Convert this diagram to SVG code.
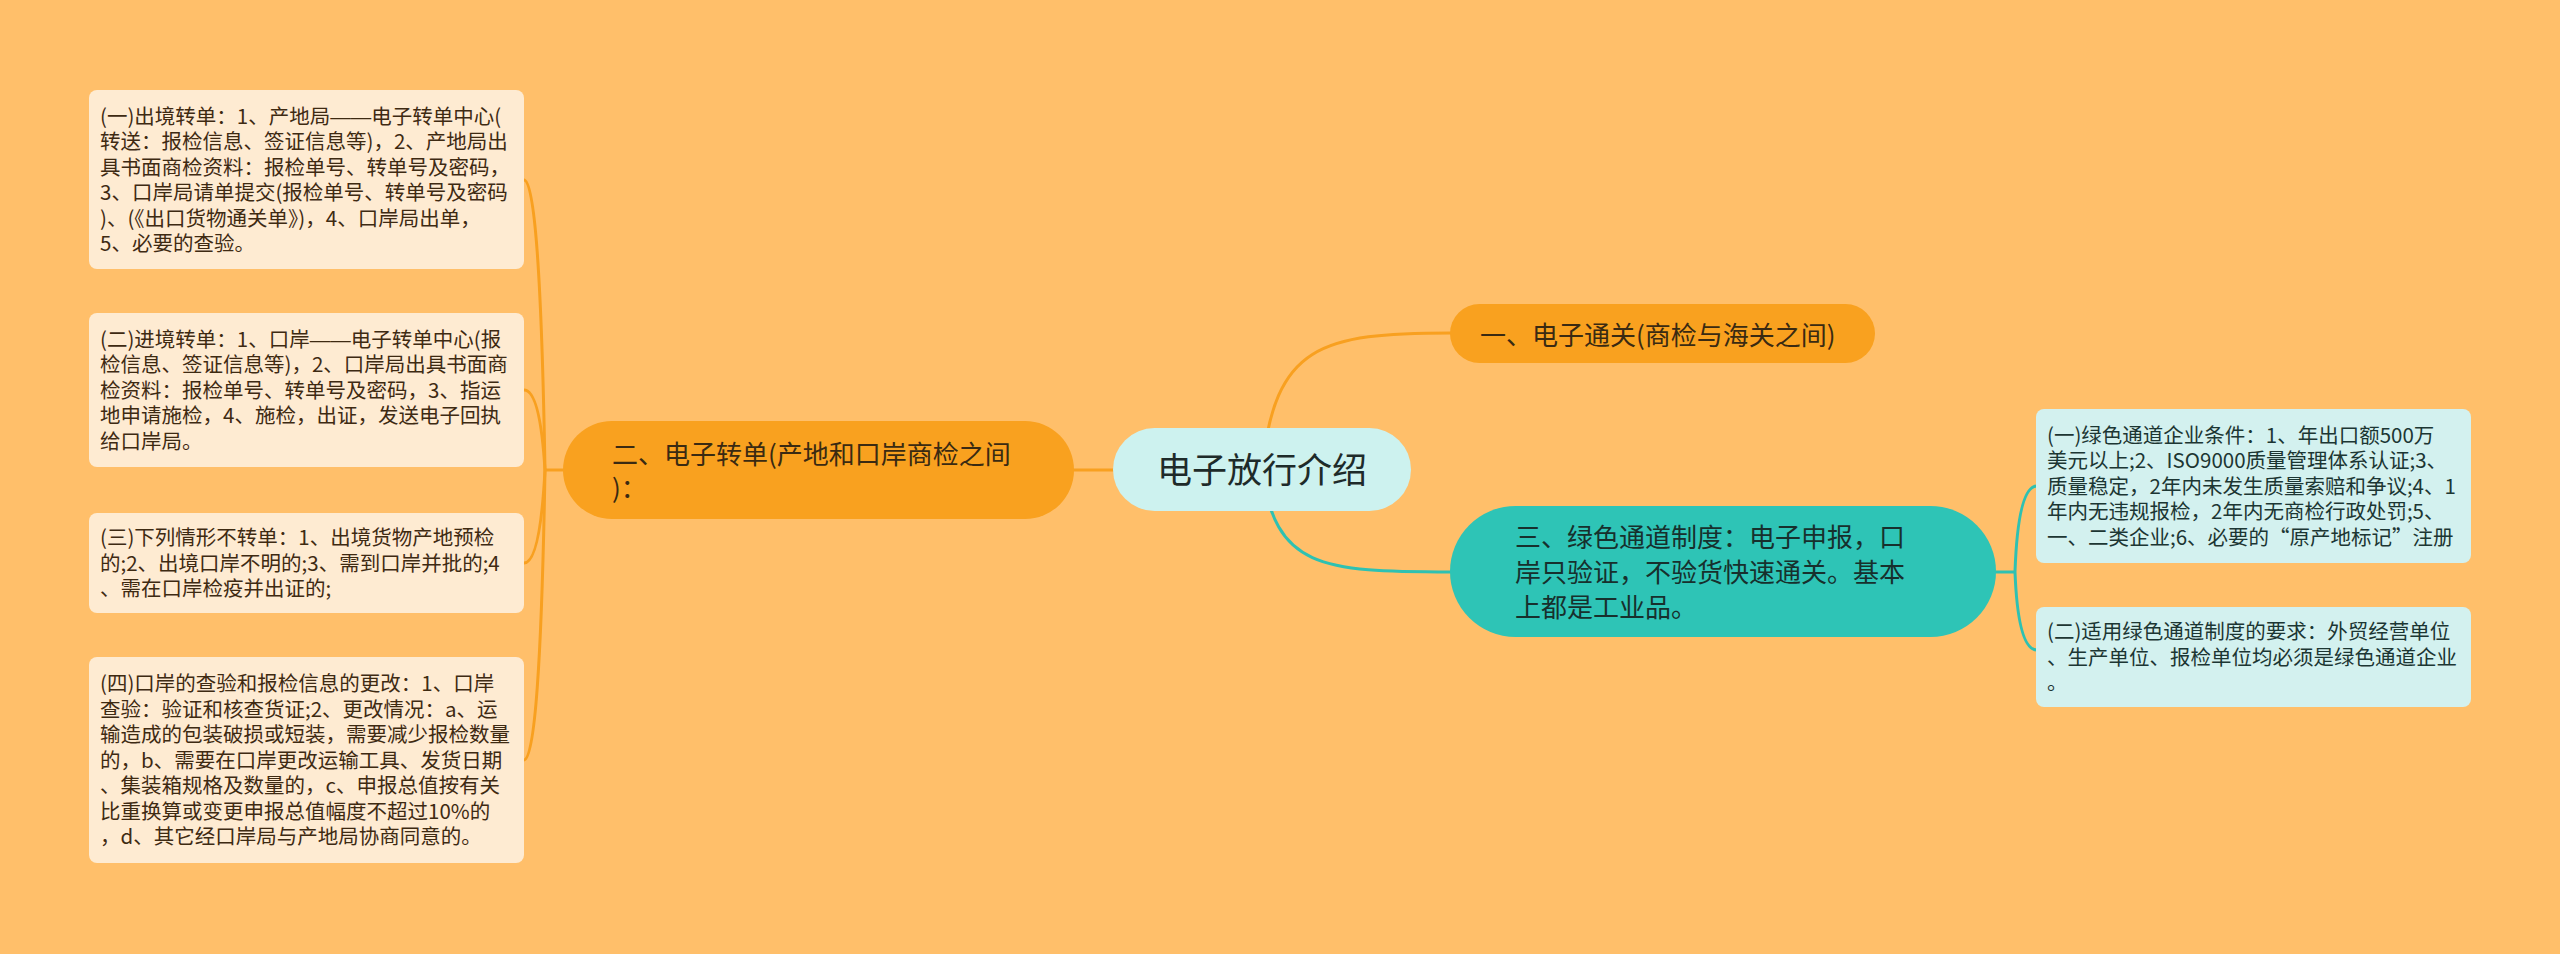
<svg xmlns="http://www.w3.org/2000/svg" width="2560" height="954" viewBox="0 0 2560 954">
<style>
.t{font-family:"Noto Sans CJK SC","Noto Sans",sans-serif}
.leafL{fill:#FEEBD2}
.leafR{fill:#D3F1EF}
.tl{font-size:20.5px;fill:#3E2A12}
.tr{font-size:20.5px;fill:#1C3633}
.l1{font-size:26px;fill:#3A2A12}
.l1t{font-size:26px;fill:#17302D}
.co{fill:none;stroke:#F8A020;stroke-width:3}
.ct{fill:none;stroke:#2EC1B2;stroke-width:3}
.dash{font-family:"Liberation Sans",sans-serif}
</style>
<rect width="2560" height="954" fill="#FFBF6A"/>
<g id="connectors">
<path class="co" d="M1070 470 L1120 470"/>
<path class="co" d="M1262 469 C1275 345 1320 333 1452 333"/>
<path class="ct" d="M1262 469 C1275 568 1320 572 1452 572"/>
<path class="co" d="M566 470 L545 470"/>
<path class="co" d="M545 470 Q540 180 524 180"/>
<path class="co" d="M545 470 Q540 390 524 390"/>
<path class="co" d="M545 470 Q540 563 524 563"/>
<path class="co" d="M545 470 Q540 760 524 760"/>
<path class="ct" d="M1994 572 L2015 572"/>
<path class="ct" d="M2015 572 Q2018 486 2037 486"/>
<path class="ct" d="M2015 572 Q2018 650 2037 650"/>
</g>
<g id="root">
<rect x="1113" y="428" width="298" height="83" rx="41.5" fill="#CDF2EF"/>
<text class="t" x="1262" y="483" font-size="35" fill="#1E2B2A" text-anchor="middle">电子放行介绍</text>
</g>
<g id="n1">
<rect x="1450" y="304" width="425" height="59" rx="29.5" fill="#F9A11F"/>
<text class="t l1" x="1480" y="345">一、电子通关(商检与海关之间)</text>
</g>
<g id="n2">
<rect x="563" y="421" width="511" height="98" rx="49" fill="#F9A11F"/>
<text class="t l1" x="612" y="464">二、电子转单(产地和口岸商检之间<tspan x="612" dy="34">)：</tspan></text>
</g>
<g id="n3">
<rect x="1450" y="506" width="546" height="131" rx="65.5" fill="#2EC4B6"/>
<text class="t l1t" x="1515" y="547">三、绿色通道制度：电子申报，口<tspan x="1515" dy="35">岸只验证，不验货快速通关。基本</tspan><tspan x="1515" dy="35">上都是工业品。</tspan></text>
</g>
<g id="leaf1">
<rect class="leafL" x="89" y="90" width="435" height="179" rx="8"/>
<text class="t tl" x="100" y="123.5">(一)出境转单：1、产地局<tspan class="dash">——</tspan>电子转单中心(<tspan x="100" dy="25.5">转送：报检信息、签证信息等)，2、产地局出</tspan><tspan x="100" dy="25.5">具书面商检资料：报检单号、转单号及密码，</tspan><tspan x="100" dy="25.5">3、口岸局请单提交(报检单号、转单号及密码</tspan><tspan x="100" dy="25.5">)、(《出口货物通关单》)，4、口岸局出单，</tspan><tspan x="100" dy="25.5">5、必要的查验。</tspan></text>
</g>
<g id="leaf2">
<rect class="leafL" x="89" y="313" width="435" height="154" rx="8"/>
<text class="t tl" x="100" y="346.5">(二)进境转单：1、口岸<tspan class="dash">——</tspan>电子转单中心(报<tspan x="100" dy="25.5">检信息、签证信息等)，2、口岸局出具书面商</tspan><tspan x="100" dy="25.5">检资料：报检单号、转单号及密码，3、指运</tspan><tspan x="100" dy="25.5">地申请施检，4、施检，出证，发送电子回执</tspan><tspan x="100" dy="25.5">给口岸局。</tspan></text>
</g>
<g id="leaf3">
<rect class="leafL" x="89" y="513" width="435" height="100" rx="8"/>
<text class="t tl" x="100" y="545">(三)下列情形不转单：1、出境货物产地预检<tspan x="100" dy="25.5">的;2、出境口岸不明的;3、需到口岸并批的;4</tspan><tspan x="100" dy="25.5">、需在口岸检疫并出证的;</tspan></text>
</g>
<g id="leaf4">
<rect class="leafL" x="89" y="657" width="435" height="206" rx="8"/>
<text class="t tl" x="100" y="691">(四)口岸的查验和报检信息的更改：1、口岸<tspan x="100" dy="25.5">查验：验证和核查货证;2、更改情况：a、运</tspan><tspan x="100" dy="25.5">输造成的包装破损或短装，需要减少报检数量</tspan><tspan x="100" dy="25.5">的，b、需要在口岸更改运输工具、发货日期</tspan><tspan x="100" dy="25.5">、集装箱规格及数量的，c、申报总值按有关</tspan><tspan x="100" dy="25.5">比重换算或变更申报总值幅度不超过10%的</tspan><tspan x="100" dy="25.5">，d、其它经口岸局与产地局协商同意的。</tspan></text>
</g>
<g id="leaf5">
<rect class="leafR" x="2036" y="409" width="435" height="154" rx="8"/>
<text class="t tr" x="2047" y="442.5">(一)绿色通道企业条件：1、年出口额500万<tspan x="2047" dy="25.5">美元以上;2、ISO9000质量管理体系认证;3、</tspan><tspan x="2047" dy="25.5">质量稳定，2年内未发生质量索赔和争议;4、1</tspan><tspan x="2047" dy="25.5">年内无违规报检，2年内无商检行政处罚;5、</tspan><tspan x="2047" dy="25.5">一、二类企业;6、必要的“原产地标记”注册</tspan></text>
</g>
<g id="leaf6">
<rect class="leafR" x="2036" y="607" width="435" height="100" rx="8"/>
<text class="t tr" x="2047" y="639">(二)适用绿色通道制度的要求：外贸经营单位<tspan x="2047" dy="25.5">、生产单位、报检单位均必须是绿色通道企业</tspan><tspan x="2047" dy="25.5">。</tspan></text>
</g>
</svg>
